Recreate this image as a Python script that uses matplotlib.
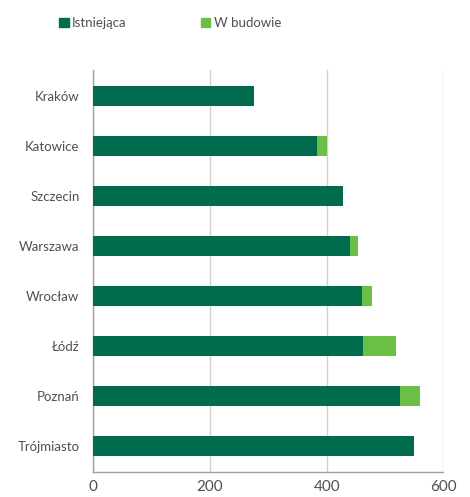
import matplotlib
matplotlib.use("Agg")
import matplotlib.pyplot as plt
from matplotlib.patches import Patch

cities = ["Kraków", "Katowice", "Szczecin", "Warszawa", "Wrocław", "Łódź", "Poznań", "Trójmiasto"]
existing = [276, 384, 428, 440, 461, 463, 526, 549]
under_construction = [0, 17, 0, 13, 17, 56, 34, 0]
xticks = [0, 200, 400, 600]

dark = "#006B4D"
light = "#6CBF45"
txt = "#505050"

plt.rcParams['font.family'] = ['Lato', 'DejaVu Sans']

fig = plt.figure(figsize=(4.7, 4.97), dpi=100)
ax = fig.add_axes([93.3/470, 1-472/497, 350/470, 402/497])

y = list(range(len(cities)))
ax.barh(y, existing, height=0.4, color=dark, label="Istniejąca", zorder=3)
ax.barh(y, under_construction, left=existing, height=0.4, color=light, label="W budowie", zorder=3)

ax.set_xlim(0, 600)
ax.set_ylim(len(cities) - 0.48, -0.52)
ax.set_yticks(y)
ax.set_yticklabels(cities, fontsize=9.5, color=txt)
ax.set_xticks(xticks)
ax.set_xticklabels([str(v) for v in xticks], fontsize=11, color=txt)
ax.tick_params(length=0, pad=6)
ax.tick_params(axis='y', pad=10)
ax.grid(axis='x', color='#d0d0d0', linewidth=1, zorder=0)
for s in ['top', 'right']:
    ax.spines[s].set_visible(False)
for s in ['left', 'bottom']:
    ax.spines[s].set_color('#a0a0a0')
    ax.spines[s].set_linewidth(1)

handles = [Patch(color=dark, label="Istniejąca"), Patch(color=light, label="W budowie")]
fig.legend(handles=handles, loc='center left', bbox_to_anchor=(47/470, 1-23/497), ncol=2,
           frameon=False, fontsize=9.5, handlelength=0.75,
           handleheight=0.75, handletextpad=0.25, columnspacing=5.6, labelcolor=txt)

fig.savefig("out.png", dpi=100)
